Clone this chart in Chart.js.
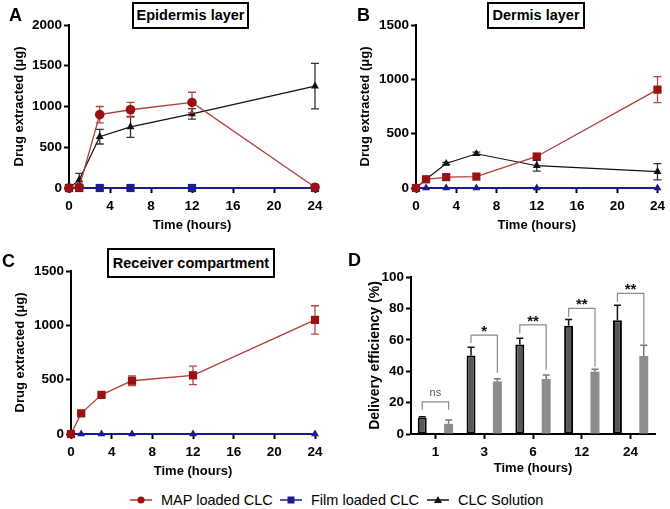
<!DOCTYPE html>
<html>
<head>
<meta charset="utf-8">
<script src="https://cdn.jsdelivr.net/npm/chart.js@4.4.1/dist/chart.umd.min.js"></script>
<style>
  html, body { margin:0; padding:0; background:#fff; }
  #wrap { position:relative; width:670px; height:509px; overflow:hidden; background:#fff;
          font-family:'Liberation Sans', Arial, Helvetica, sans-serif; }
  canvas { position:absolute; }
  .letter { position:absolute; font-weight:bold; font-size:18px; color:#000; line-height:18px; }
  .tbox { position:absolute; box-sizing:border-box; border:2px solid #000; background:#fff;
          font-weight:bold; font-size:14.5px; color:#000; text-align:center; white-space:nowrap; }
  .leg { position:absolute; display:flex; align-items:center; font-size:14.5px; color:#000; white-space:nowrap; }
  .leg svg { margin-right:9px; }
</style>
</head>
<body>
<div id="wrap">
  <canvas id="cA" width="335" height="240" style="left:0;top:0"></canvas>
  <canvas id="cB" width="335" height="240" style="left:335px;top:0"></canvas>
  <canvas id="cC" width="335" height="250" style="left:0;top:230px"></canvas>
  <canvas id="cD" width="335" height="250" style="left:335px;top:230px"></canvas>

  <div class="letter" style="left:9px;top:6px">A</div>
  <div class="letter" style="left:357px;top:6px">B</div>
  <div class="letter" style="left:2px;top:252px">C</div>
  <div class="letter" style="left:348px;top:251px">D</div>

  <div class="tbox" style="left:132px;top:2px;width:117px;height:27px;line-height:23px">Epidermis layer</div>
  <div class="tbox" style="left:487px;top:2px;width:98px;height:27px;line-height:23px">Dermis layer</div>
  <div class="tbox" style="left:107px;top:248px;width:168px;height:30px;line-height:26px">Receiver compartment</div>

  <div class="leg" style="left:130px;top:492px">
    <svg width="22" height="12"><line x1="0" y1="6" x2="22" y2="6" stroke="#B03A3A" stroke-width="1.5"/><circle cx="11" cy="6" r="3.6" fill="#9B1111"/></svg><span>MAP loaded CLC</span>
  </div>
  <div class="leg" style="left:280px;top:492px">
    <svg width="22" height="12"><line x1="0" y1="6" x2="22" y2="6" stroke="#1B1B8F" stroke-width="1.5"/><rect x="7.5" y="2.5" width="7" height="7" fill="#1B1B8F"/></svg><span>Film loaded CLC</span>
  </div>
  <div class="leg" style="left:427px;top:492px">
    <svg width="22" height="12"><line x1="0" y1="6" x2="22" y2="6" stroke="#111" stroke-width="1.5"/><polygon points="11,2 15,9 7,9" fill="#111"/></svg><span>CLC Solution</span>
  </div>
</div>

<script>
// ---------------- DATA ----------------
const timesH = [0, 1, 3, 6, 12, 24];
const xTicksH = [0, 4, 8, 12, 16, 20, 24];

// A: Epidermis layer
const epiMAP     = [0, 10, 900, 960, 1050, 10];
const epiMAPErr  = [0, 0, 100, 90, 125, 0];
const epiFilm    = [0, 0, 0, 0, 0, 0];
const epiCLC     = [0, 100, 630, 750, 910, 1250];
const epiCLCErr  = [0, 80, 90, 130, 65, 280];
const epiYTicks  = [0, 500, 1000, 1500, 2000];

// B: Dermis layer
const derMAP     = [0, 80, 100, 105, 290, 905];
const derMAPErr  = [0, 0, 0, 0, 15, 120];
const derFilm    = [0, 0, 0, 0, 0, 0];
const derCLC     = [0, 80, 225, 315, 205, 150];
const derCLCErr  = [0, 0, 10, 15, 50, 75];
const derYTicks  = [0, 500, 1000, 1500];

// C: Receiver compartment
const recMAP     = [0, 190, 360, 490, 540, 1050];
const recMAPErr  = [0, 10, 10, 45, 85, 130];
const recFilm    = [0, 0, 0, 0, 0, 0];
const recYTicks  = [0, 500, 1000, 1500];

// D: Delivery efficiency
const effCats      = ['1', '3', '6', '12', '24'];
const effDark      = [10.5, 50, 57, 69, 72.5];
const effDarkErr   = [0.5, 5.3, 4, 4, 9.5];
const effLight     = [6.5, 33.5, 35, 39.7, 49.7];
const effLightErr  = [2.4, 1.7, 2.6, 1.5, 6.8];
const effYTicks    = [0, 20, 40, 60, 80, 100];
const sigLabels    = ['ns', '*', '**', '**', '**'];
const sigTop       = [20.5, 63, 69.5, 80, 89.6];
const sigLeftEnd   = [15.5, 58, 64, 74.7, 84.3];
const sigRightEnd  = [15.5, 39, 41, 43, 57];

// ---------------- STYLE ----------------
const RED_M = '#9B1111', RED_L = '#B23B3B', RED_E = '#B54A4A';
const BLUE = '#1B1B8F', BLACK = '#111111';
const FONT = "'Liberation Sans', Arial, Helvetica, sans-serif";
const TICK_FONT = { size: 13.5, weight: 'bold' };
Chart.defaults.font.family = FONT;
Chart.defaults.color = '#000';

const errorBarPlugin = {
  id: 'errBars',
  beforeDatasetDraw(chart, args) {
    const ds = chart.data.datasets[args.index];
    if (!ds.errors) return;
    const ys = chart.scales.y, ctx = chart.ctx;
    ctx.save();
    ctx.strokeStyle = ds.errColor || '#000';
    ctx.lineWidth = ds.errWidth || 1.3;
    const cap = ds.errCap || 4;
    args.meta.data.forEach((el, i) => {
      const e = ds.errors[i];
      if (!e) return;
      const raw = ds.data[i];
      const v = (typeof raw === 'object') ? raw.y : raw;
      const yt = ys.getPixelForValue(v + e);
      const yb = ds.errUpOnly ? ys.getPixelForValue(v) : ys.getPixelForValue(v - e);
      const x = el.x;
      ctx.beginPath();
      ctx.moveTo(x, yt); ctx.lineTo(x, yb);
      ctx.moveTo(x - cap, yt); ctx.lineTo(x + cap, yt);
      if (!ds.errUpOnly) { ctx.moveTo(x - cap, yb); ctx.lineTo(x + cap, yb); }
      ctx.stroke();
    });
    ctx.restore();
  }
};

const sigPlugin = {
  id: 'sigBrackets',
  afterDatasetsDraw(chart) {
    const ys = chart.scales.y, ctx = chart.ctx;
    const m0 = chart.getDatasetMeta(0).data, m1 = chart.getDatasetMeta(1).data;
    ctx.save();
    ctx.strokeStyle = '#8a8a8a';
    ctx.lineWidth = 1.2;
    for (let i = 0; i < sigLabels.length; i++) {
      const xl = m0[i].x, xr = m1[i].x;
      const yt = ys.getPixelForValue(sigTop[i]);
      ctx.beginPath();
      ctx.moveTo(xl, ys.getPixelForValue(sigLeftEnd[i]));
      ctx.lineTo(xl, yt); ctx.lineTo(xr, yt);
      ctx.lineTo(xr, ys.getPixelForValue(sigRightEnd[i]));
      ctx.stroke();
      ctx.textAlign = 'center';
      ctx.textBaseline = 'alphabetic';
      if (sigLabels[i] === 'ns') {
        ctx.font = '11px ' + FONT; ctx.fillStyle = '#555';
        ctx.fillText('ns', (xl + xr) / 2, yt - 6);
      } else {
        ctx.font = 'bold 15px ' + FONT; ctx.fillStyle = '#111';
        ctx.fillText(sigLabels[i], (xl + xr) / 2, yt + 1);
      }
    }
    ctx.restore();
  }
};

function axisCommon() {
  return {
    grid: { display: true, drawOnChartArea: false, drawTicks: true, tickLength: 5, tickWidth: 2, tickColor: '#000' },
    border: { display: true, color: '#000', width: 2 },
  };
}

function pts(vals) { return timesH.map((t, i) => ({ x: t, y: vals[i] })); }

function lineDS(vals, errs, color, lineColor, shape, radius, lw, errColor) {
  return {
    data: pts(vals), errors: errs, errColor: errColor || color, errCap: 4, errWidth: 1.3,
    borderColor: lineColor, backgroundColor: color, pointBackgroundColor: color, pointBorderColor: color,
    pointStyle: shape, pointRadius: radius, pointBorderWidth: 0, borderWidth: lw, clip: false, tension: 0
  };
}

const plainNum = v => String(v);

function makeLineChart(id, W, H, geom, datasets, yMax, yTicks, yTitlePad, xTitlePadB) {
  const yw = geom.left, xh = H - geom.bottom;
  new Chart(document.getElementById(id), {
    type: 'line',
    data: { datasets },
    plugins: [errorBarPlugin],
    options: {
      responsive: false, animation: false, devicePixelRatio: 1,
      layout: { padding: { left: 0, top: geom.top, right: W - geom.right, bottom: 0 } },
      plugins: { legend: { display: false }, tooltip: { enabled: false } },
      scales: {
        x: Object.assign(axisCommon(), {
          type: 'linear', min: 0, max: 24,
          afterBuildTicks: s => { s.ticks = xTicksH.map(v => ({ value: v })); },
          afterFit: s => { s.height = xh; },
          ticks: { font: TICK_FONT, color: '#000', padding: 5, maxRotation: 0, callback: plainNum },
          title: { display: true, text: 'Time (hours)', font: { size: 13, weight: 'bold' }, color: '#000', padding: { top: 0, bottom: xTitlePadB } }
        }),
        y: Object.assign(axisCommon(), {
          type: 'linear', min: 0, max: yMax,
          afterBuildTicks: s => { s.ticks = yTicks.map(v => ({ value: v })); },
          afterFit: s => { s.width = yw; },
          ticks: { font: TICK_FONT, color: '#000', padding: 2, callback: plainNum },
          title: { display: true, text: 'Drug extracted (μg)', font: { size: 13, weight: 'bold' }, color: '#000', padding: { top: yTitlePad, bottom: 0 } }
        })
      }
    }
  });
}

// A
makeLineChart('cA', 335, 240, { left: 69, top: 25, right: 315, bottom: 188 }, [
  lineDS(epiMAP, epiMAPErr, RED_M, RED_L, 'circle', 4.8, 1.3, RED_E),
  lineDS(epiFilm, null, BLUE, BLUE, 'rect', 5.8, 2),
  lineDS(epiCLC, epiCLCErr, BLACK, BLACK, 'triangle', 4.6, 1.2, '#333'),
], 2000, epiYTicks, 11.5, 7.2);

// B
makeLineChart('cB', 335, 240, { left: 81, top: 25, right: 325, bottom: 188 }, [
  lineDS(derMAP, derMAPErr, RED_M, RED_L, 'rect', 5.8, 1.3, RED_E),
  lineDS(derFilm, null, BLUE, BLUE, 'triangle', 4.6, 2),
  lineDS(derCLC, derCLCErr, BLACK, BLACK, 'triangle', 4.6, 1.2, '#333'),
], 1500, derYTicks, 22.9, 7.2);

// C
makeLineChart('cC', 335, 250, { left: 71, top: 41, right: 315, bottom: 204 }, [
  lineDS(recMAP, recMAPErr, RED_M, RED_L, 'rect', 5.8, 1.3, RED_E),
  lineDS(recFilm, null, BLUE, BLUE, 'triangle', 4.6, 2),
], 1500, recYTicks, 12.2, 1.2);

// D
(function () {
  const W = 335, H = 250, g = { left: 76, top: 47, right: 320, bottom: 204 };
  new Chart(document.getElementById('cD'), {
    type: 'bar',
    data: {
      labels: effCats,
      datasets: [
        { data: effDark, errors: effDarkErr, errUpOnly: true, errColor: '#111', errCap: 3.5, errWidth: 1.5,
          backgroundColor: '#575757', borderColor: '#000', borderWidth: 2, borderSkipped: false,
          categoryPercentage: 1.08, barPercentage: 0.34 },
        { data: effLight, errors: effLightErr, errUpOnly: true, errColor: '#777', errCap: 3.5, errWidth: 1.5,
          backgroundColor: '#8C8C8C', borderWidth: 0,
          categoryPercentage: 1.08, barPercentage: 0.34 }
      ]
    },
    plugins: [errorBarPlugin, sigPlugin],
    options: {
      responsive: false, animation: false, devicePixelRatio: 1,
      layout: { padding: { left: 0, top: g.top, right: W - g.right, bottom: 0 } },
      plugins: { legend: { display: false }, tooltip: { enabled: false } },
      scales: {
        x: Object.assign(axisCommon(), {
          type: 'category', offset: true,
          grid: { display: true, offset: false, drawOnChartArea: false, drawTicks: true, tickLength: 5, tickWidth: 2, tickColor: '#000' },
          afterFit: s => { s.height = H - g.bottom; },
          ticks: { font: TICK_FONT, color: '#000', padding: 5, maxRotation: 0 },
          title: { display: true, text: 'Time (hours)', font: { size: 13, weight: 'bold' }, color: '#000', padding: { top: 0, bottom: 4.2 } }
        }),
        y: Object.assign(axisCommon(), {
          type: 'linear', min: 0, max: 100,
          afterBuildTicks: s => { s.ticks = effYTicks.map(v => ({ value: v })); },
          afterFit: s => { s.width = g.left; },
          ticks: { font: TICK_FONT, color: '#000', padding: 2, callback: plainNum },
          title: { display: true, text: 'Delivery efficiency (%)', font: { size: 14, weight: 'bold' }, color: '#000', padding: { top: 31.6, bottom: 0 } }
        })
      }
    }
  });
})();
</script>
</body>
</html>
